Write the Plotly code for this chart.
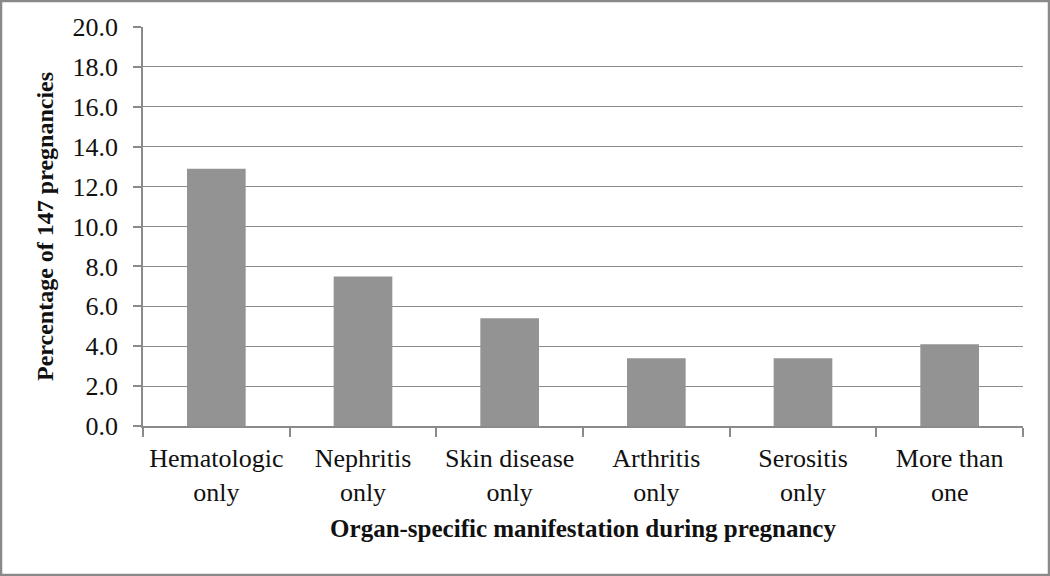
import plotly.graph_objects as go

categories = ["Hematologic<br>only", "Nephritis<br>only", "Skin disease<br>only",
              "Arthritis<br>only", "Serositis<br>only", "More than<br>one"]
values = [12.9, 7.5, 5.4, 3.4, 3.4, 4.1]
y_ticks = [0, 2, 4, 6, 8, 10, 12, 14, 16, 18, 20]

fig = go.Figure(go.Bar(x=categories, y=values, marker=dict(color="#939393", line=dict(width=0)),
                       width=0.40, hoverinfo="skip"))

font = dict(family="Liberation Serif, Times New Roman, serif", size=26, color="#111")
fig.update_layout(
    width=1050, height=576,
    margin=dict(l=143, r=27, t=27, b=150),
    paper_bgcolor="white", plot_bgcolor="white",
    font=font, showlegend=False,
    xaxis=dict(
        automargin=False,
        showline=True, linecolor="#8a8a8a", linewidth=1.5,
        ticks="outside", tickson="boundaries", ticklen=9, tickcolor="#8a8a8a", tickwidth=1.5,
        ticklabelstandoff=8,
        showgrid=False,
        title=dict(text="<b>Organ-specific manifestation during pregnancy</b>", standoff=14,
                   font=dict(size=25)),
        tickfont=dict(size=26),
    ),
    yaxis=dict(
        automargin=False,
        range=[0, 20], tickvals=y_ticks, ticktext=[f"{v:.1f}" for v in y_ticks],
        showline=True, linecolor="#8a8a8a", linewidth=1.5,
        ticks="outside", ticklen=8, tickcolor="#8a8a8a", tickwidth=1.5,
        ticklabelstandoff=10,
        showgrid=True, gridcolor="#8a8a8a", gridwidth=1.2,
        zeroline=False,
        title=dict(text="<b>Percentage of 147 pregnancies</b>", standoff=12, font=dict(size=24)),
        tickfont=dict(size=26),
    ),
    shapes=[dict(type="rect", xref="paper", yref="paper", x0=-142/880, x1=1+26/880,
                 y0=-149/399, y1=1+26/399, line=dict(color="#8a8a8a", width=2.5))],
)

fig.write_html("out.html", config={"displayModeBar": False},
               post_script="document.body.style.margin='0';document.body.style.padding='0';")
